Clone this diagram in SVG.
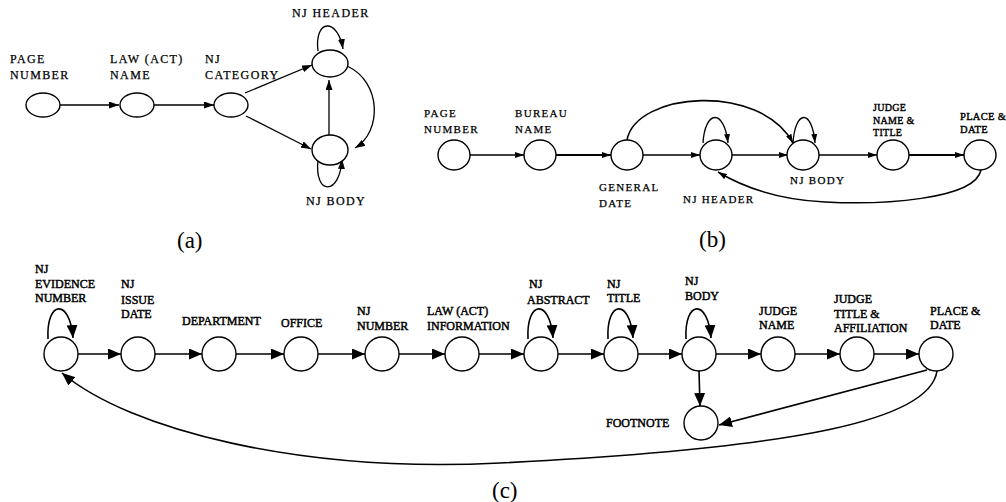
<svg xmlns="http://www.w3.org/2000/svg" width="1006" height="502" viewBox="0 0 1006 502" font-family="'Liberation Serif', Tinos, 'Times New Roman', serif">
<style>
.n{fill:#fff;stroke:#000;stroke-width:1.4}
.e{fill:none;stroke:#000;stroke-width:1.3}
.ec{fill:none;stroke:#000;stroke-width:1.6}
.t{font-size:12px;letter-spacing:1.4px;fill:#000;stroke:#000;stroke-width:0.25}
.tm{font-size:11px;letter-spacing:1.3px;fill:#000;stroke:#000;stroke-width:0.25}
.tb{font-size:12px;fill:#000;stroke:#000;stroke-width:0.45}
.ts{font-size:10px;letter-spacing:0.3px;fill:#000;stroke:#000;stroke-width:0.4}
.cap{font-size:23px;fill:#000}
</style>
<defs>
<marker id="ma" markerUnits="userSpaceOnUse" markerWidth="10" markerHeight="7" refX="10" refY="3.5" orient="auto"><path d="M0,0 L10,3.5 L0,7 z" fill="#000"/></marker>
<marker id="mb" markerUnits="userSpaceOnUse" markerWidth="9" markerHeight="6" refX="9" refY="3" orient="auto"><path d="M0,0 L9,3 L0,6 z" fill="#000"/></marker>
<marker id="mc" markerUnits="userSpaceOnUse" markerWidth="13" markerHeight="11" refX="13" refY="5.5" orient="auto"><path d="M0,0 L13,5.5 L0,11 z" fill="#000"/></marker>
</defs>

<!-- (a) -->
<g id="connectors-a">
<path class="e" d="M60,105 L119,105" marker-end="url(#ma)"/>
<path class="e" d="M154,105 L214,105" marker-end="url(#ma)"/>
<path class="e" d="M245,93 L312,65" marker-end="url(#ma)"/>
<path class="e" d="M246,116 L311,149" marker-end="url(#ma)"/>
<path class="e" d="M329,135 L329,80" marker-end="url(#ma)"/>
<path class="e" d="M347,66 C382,82 382,132 355,148" marker-end="url(#ma)"/>
<path class="e" d="M318,51 C314,18 338,18 343,49" marker-end="url(#ma)"/>
<path class="e" d="M318,160 C314,196 340,196 342,159" marker-end="url(#ma)"/>
</g>
<g id="a-page"><ellipse class="n" cx="43" cy="105" rx="17" ry="12"/><text class="t" x="10" y="63">PAGE</text><text class="t" x="10" y="79">NUMBER</text></g>
<g id="a-law"><ellipse class="n" cx="137" cy="105" rx="17" ry="12"/><text class="t" x="110" y="63">LAW (ACT)</text><text class="t" x="110" y="79">NAME</text></g>
<g id="a-cat"><ellipse class="n" cx="231" cy="105" rx="17" ry="12"/><text class="t" x="205" y="63">NJ</text><text class="t" x="205" y="79">CATEGORY</text></g>
<g id="a-header"><ellipse class="n" cx="330" cy="63.5" rx="18" ry="13.5"/><text class="t" x="292" y="17">NJ HEADER</text></g>
<g id="a-body"><ellipse class="n" cx="330" cy="150" rx="18" ry="15"/><text class="t" x="306" y="205">NJ BODY</text></g>
<text class="cap" x="177" y="248">(a)</text>

<!-- (b) -->
<g id="connectors-b">
<path class="e" d="M470,155 L524,155" marker-end="url(#mb)"/>
<path class="e" style="stroke-width:2" d="M556,155 L611,155" marker-end="url(#mb)"/>
<path class="e" d="M643,155 L700,155" marker-end="url(#mb)"/>
<path class="e" d="M732,155 L788,155" marker-end="url(#mb)"/>
<path class="e" d="M819,155 L877,155" marker-end="url(#mb)"/>
<path class="e" style="stroke-width:2" d="M909,155 L964,155" marker-end="url(#mb)"/>
<path class="e" style="stroke-width:1.6" d="M627,140 C636,92 760,82 793,143" marker-end="url(#mb)"/>
<path class="e" d="M703,143 C705,110 724,108 728,143" marker-end="url(#mb)"/>
<path class="e" d="M793,143 C795,110 812,108 815,143" marker-end="url(#mb)"/>
<path class="e" style="stroke-width:1.5" d="M981,170 C975,200 880,205 825,202 C785,200 748,190 718,172" marker-end="url(#mb)"/>
</g>
<g id="b-page"><ellipse class="n" cx="454" cy="155" rx="16" ry="15"/><text class="tm" x="424" y="117">PAGE</text><text class="tm" x="424" y="133">NUMBER</text></g>
<g id="b-bureau"><ellipse class="n" cx="540" cy="155" rx="16" ry="15"/><text class="tm" x="515" y="117">BUREAU</text><text class="tm" x="515" y="133">NAME</text></g>
<g id="b-general"><ellipse class="n" cx="627" cy="155" rx="16" ry="15"/><text class="tm" x="599" y="191">GENERAL</text><text class="tm" x="599" y="207">DATE</text></g>
<g id="b-header"><ellipse class="n" cx="716" cy="155" rx="16" ry="15"/><text class="tm" x="683" y="203">NJ HEADER</text></g>
<g id="b-body"><ellipse class="n" cx="803" cy="155" rx="16" ry="15"/><text class="tm" x="790" y="184">NJ BODY</text></g>
<g id="b-judge"><ellipse class="n" cx="893" cy="155" rx="16" ry="15"/><text class="ts" x="873" y="111">JUDGE</text><text class="ts" x="873" y="123.5">NAME &amp;</text><text class="ts" x="873" y="136">TITLE</text></g>
<g id="b-place"><ellipse class="n" cx="980" cy="155" rx="16" ry="15"/><text class="ts" style="font-size:10.5px" x="960" y="120">PLACE &amp;</text><text class="ts" style="font-size:10.5px" x="960" y="133">DATE</text></g>
<text class="cap" x="699" y="247">(b)</text>

<!-- (c) -->
<g id="connectors-c">
<path class="ec" d="M78,354 L121,354" marker-end="url(#mc)"/>
<path class="ec" d="M155,354 L202,354" marker-end="url(#mc)"/>
<path class="ec" d="M236,354 L284,354" marker-end="url(#mc)"/>
<path class="ec" d="M318,354 L365,354" marker-end="url(#mc)"/>
<path class="ec" d="M399,354 L445,354" marker-end="url(#mc)"/>
<path class="ec" d="M479,354 L524,354" marker-end="url(#mc)"/>
<path class="ec" d="M558,354 L604,354" marker-end="url(#mc)"/>
<path class="ec" d="M638,354 L682,354" marker-end="url(#mc)"/>
<path class="ec" d="M716,354 L761,354" marker-end="url(#mc)"/>
<path class="ec" d="M795,354 L840,354" marker-end="url(#mc)"/>
<path class="ec" d="M874,354 L919,354" marker-end="url(#mc)"/>
<path class="ec" d="M699,371 L700,406" marker-end="url(#mc)"/>
<path class="ec" d="M927,370 L719,425" marker-end="url(#mc)"/>
<path class="ec" d="M937,371 C930,420 800,448 500,463 C300,473 130,430 62,373" marker-end="url(#mc)"/>
<path class="ec" d="M48,339 C46,300 70,298 73,338" marker-end="url(#mc)"/>
<path class="ec" d="M528,339 C526,300 550,298 553,338" marker-end="url(#mc)"/>
<path class="ec" d="M608,339 C606,300 630,298 633,338" marker-end="url(#mc)"/>
<path class="ec" d="M686,339 C684,300 708,298 711,338" marker-end="url(#mc)"/>
</g>
<g id="c-evidence"><circle class="n" cx="61" cy="354" r="17"/><text class="tb" x="35" y="273">NJ</text><text class="tb" x="35" y="288">EVIDENCE</text><text class="tb" x="35" y="302">NUMBER</text></g>
<g id="c-issue"><circle class="n" cx="138" cy="354" r="17"/><text class="tb" x="121" y="288">NJ</text><text class="tb" x="121" y="304">ISSUE</text><text class="tb" x="121" y="318">DATE</text></g>
<g id="c-dept"><circle class="n" cx="219" cy="354" r="17"/><text class="tb" x="182" y="325">DEPARTMENT</text></g>
<g id="c-office"><circle class="n" cx="301" cy="354" r="17"/><text class="tb" x="281" y="327">OFFICE</text></g>
<g id="c-number"><circle class="n" cx="382" cy="354" r="17"/><text class="tb" x="357" y="315">NJ</text><text class="tb" x="357" y="330">NUMBER</text></g>
<g id="c-law"><circle class="n" cx="462" cy="354" r="17"/><text class="tb" x="427" y="315">LAW (ACT)</text><text class="tb" x="427" y="330">INFORMATION</text></g>
<g id="c-abstract"><circle class="n" cx="541" cy="354" r="17"/><text class="tb" x="529" y="288">NJ</text><text class="tb" x="527" y="304">ABSTRACT</text></g>
<g id="c-title"><circle class="n" cx="621" cy="354" r="17"/><text class="tb" x="607" y="288">NJ</text><text class="tb" x="607" y="302">TITLE</text></g>
<g id="c-body"><circle class="n" cx="699" cy="354" r="17"/><text class="tb" x="685" y="285">NJ</text><text class="tb" x="685" y="300">BODY</text></g>
<g id="c-judgename"><circle class="n" cx="778" cy="354" r="17"/><text class="tb" x="759" y="315">JUDGE</text><text class="tb" x="759" y="329">NAME</text></g>
<g id="c-judgetitle"><circle class="n" cx="857" cy="354" r="17"/><text class="tb" x="834" y="303">JUDGE</text><text class="tb" x="834" y="318">TITLE &amp;</text><text class="tb" x="834" y="332">AFFILIATION</text></g>
<g id="c-place"><circle class="n" cx="936" cy="354" r="17"/><text class="tb" x="930" y="315">PLACE &amp;</text><text class="tb" x="930" y="329">DATE</text></g>
<g id="c-footnote"><circle class="n" cx="701" cy="423" r="17"/><text class="tb" x="606" y="427">FOOTNOTE</text></g>
<text class="cap" x="492" y="498">(c)</text>
</svg>
